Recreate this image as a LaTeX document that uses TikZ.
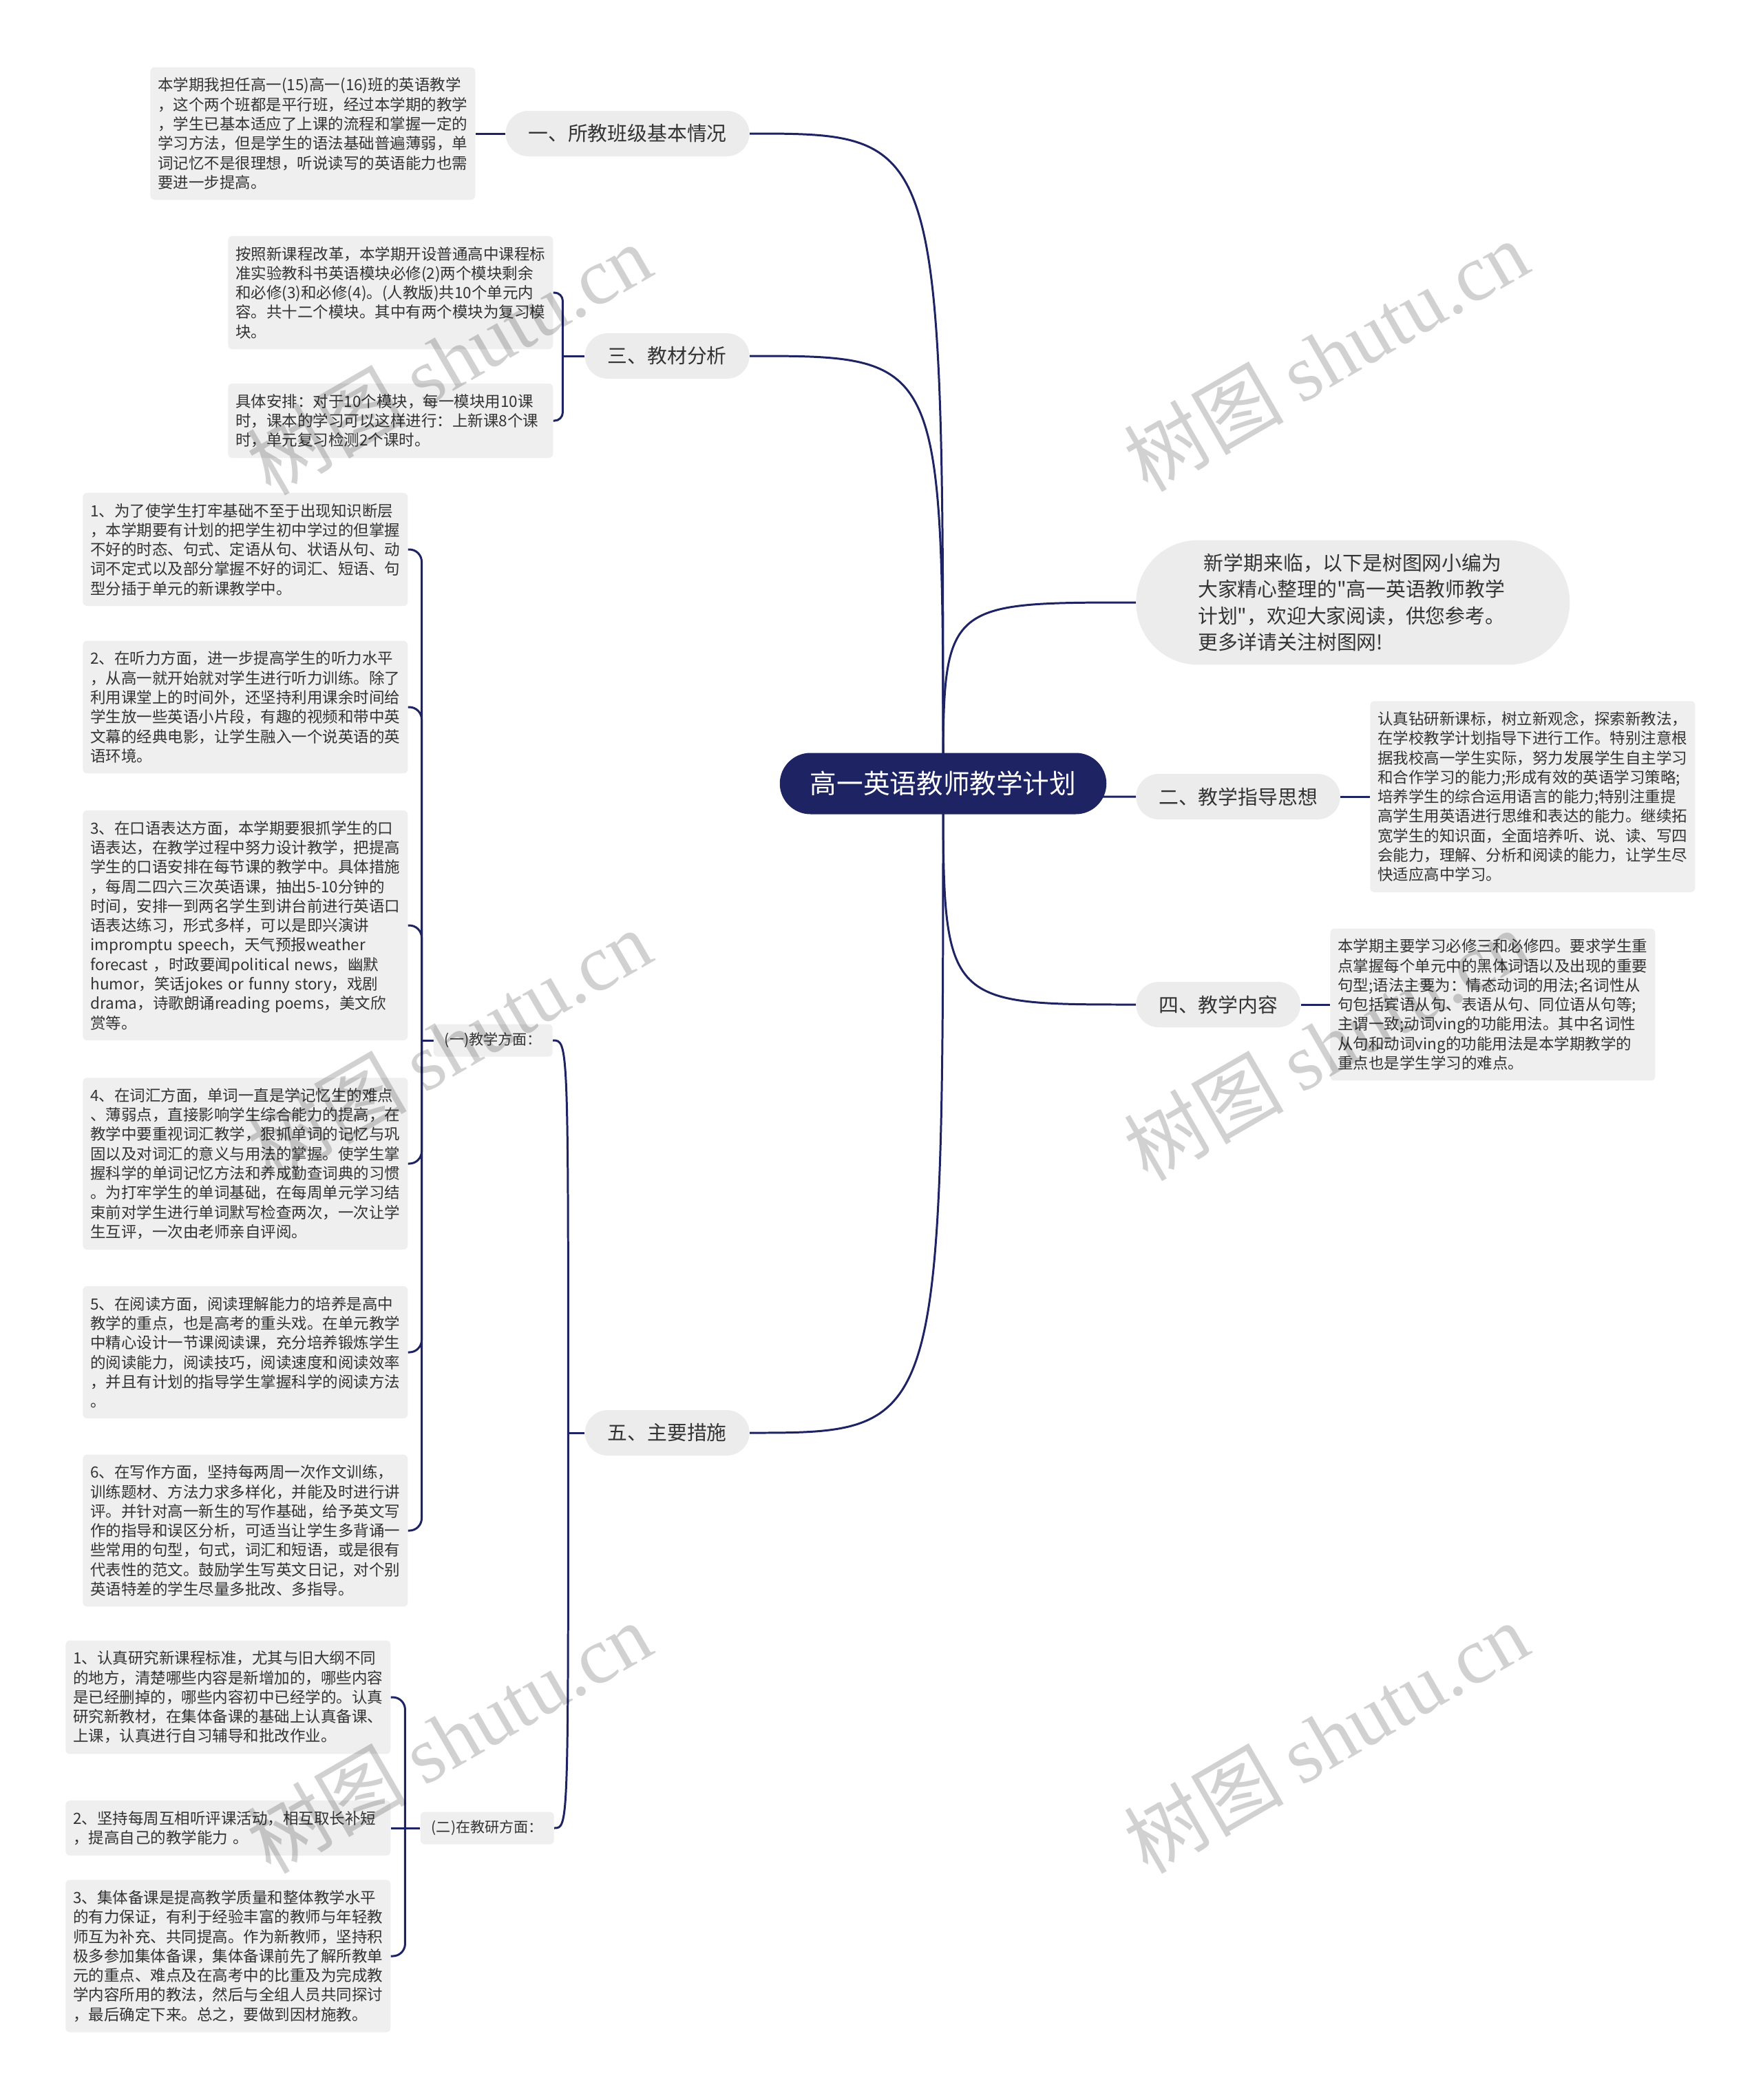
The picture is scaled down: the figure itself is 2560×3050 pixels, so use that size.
\documentclass[tikz,border=0pt]{standalone}
\usepackage{fontspec}
\setmainfont{Noto Sans CJK SC}[Ligatures=TeXOff]
\newfontfamily\wmfont{Liberation Serif}
\usetikzlibrary{calc,backgrounds}
\definecolor{navy}{HTML}{1E2463}
\definecolor{ink}{HTML}{333333}
\definecolor{pillgray}{HTML}{ECECEC}
\definecolor{cardgray}{HTML}{EFEFEF}
\tikzset{
  rootbox/.style={fill=navy,text=white,rounded corners=0.89cm,minimum height=1.78cm,
    inner xsep=0.88cm,font=\fontsize{22pt}{26pt}\selectfont},
  topic/.style={fill=pillgray,text=ink,rounded corners=0.66cm,minimum height=1.32cm,
    inner xsep=0.66cm,font=\fontsize{16.4pt}{20pt}\selectfont},
  intro/.style={fill=pillgray,text=ink,rounded corners=1.8cm,minimum height=3.62cm,
    text width=9cm,align=left,inner xsep=1.8cm,font=\fontsize{16.4pt}{21.8pt}\selectfont},
  note/.style={fill=cardgray,text=ink,rounded corners=0.12cm,text width=9cm,align=left,
    inner xsep=0.22cm,inner ysep=0.3cm,font=\fontsize{12.8pt}{16.1pt}\selectfont},
  subtopic/.style={fill=cardgray,text=ink,rounded corners=0.12cm,minimum height=0.94cm,
    inner xsep=0.32cm,font=\fontsize{12pt}{14pt}\selectfont},
  link/.style={draw=navy,line width=1.7pt},
  wm/.style={rotate=30,text=black,opacity=0.18,font=\fontsize{66pt}{76pt}\selectfont}
}
\begin{document}
\begin{tikzpicture}[x=0.02cm,y=-0.02cm]
\useasboundingbox (0,0) rectangle (2560,3050);

\node[rootbox] (root) at (1370,1138) {高一英语教师教学计划};

\node[topic,anchor=east] (t1) at (1089,194) {一、所教班级基本情况};
\node[topic,anchor=east] (t3) at (1089,517) {三、教材分析};
\node[topic,anchor=east] (t5) at (1089,2081) {五、主要措施};
\node[intro,anchor=west] (hello) at (1650,875) {\hspace*{0.3em}新学期来临，以下是树图网小编为\\大家精心整理的"高一英语教师教学\\计划"，欢迎大家阅读，供您参考。\\更多详请关注树图网!};
\node[topic,anchor=west] (t2) at (1650,1157) {二、教学指导思想};
\node[topic,anchor=west] (t4) at (1650,1459) {四、教学内容};

\node[note,anchor=west] (n1) at (218,194) {本学期我担任高一(15)高一(16)班的英语教学\\，这个两个班都是平行班，经过本学期的教学\\，学生已基本适应了上课的流程和掌握一定的\\学习方法，但是学生的语法基础普遍薄弱，单\\词记忆不是很理想，听说读写的英语能力也需\\要进一步提高。};
\node[note,anchor=west] (n3a) at (331,425) {按照新课程改革，本学期开设普通高中课程标\\准实验教科书英语模块必修(2)两个模块剩余\\和必修(3)和必修(4)。(人教版)共10个单元内\\容。共十二个模块。其中有两个模块为复习模\\块。};
\node[note,anchor=west] (n3b) at (331,611) {具体安排：对于10个模块，每一模块用10课\\时，课本的学习可以这样进行：上新课8个课\\时，单元复习检测2个课时。};
\node[note,anchor=west] (n2) at (1990,1157) {认真钻研新课标，树立新观念，探索新教法，\\在学校教学计划指导下进行工作。特别注意根\\据我校高一学生实际，努力发展学生自主学习\\和合作学习的能力;形成有效的英语学习策略;\\培养学生的综合运用语言的能力;特别注重提\\高学生用英语进行思维和表达的能力。继续拓\\宽学生的知识面，全面培养听、说、读、写四\\会能力，理解、分析和阅读的能力，让学生尽\\快适应高中学习。};
\node[note,anchor=west] (n4) at (1932,1459) {本学期主要学习必修三和必修四。要求学生重\\点掌握每个单元中的黑体词语以及出现的重要\\句型;语法主要为：情态动词的用法;名词性从\\句包括宾语从句、表语从句、同位语从句等;\\主谓一致;动词ving的功能用法。其中名词性\\从句和动词ving的功能用法是本学期教学的\\重点也是学生学习的难点。};

\node[subtopic,anchor=east] (s1) at (803,1511) {(一)教学方面：};
\node[subtopic,anchor=east] (s2) at (805,2655) {(二)在教研方面：};

\node[note,anchor=west] (a1) at (120,798) {1、为了使学生打牢基础不至于出现知识断层\\，本学期要有计划的把学生初中学过的但掌握\\不好的时态、句式、定语从句、状语从句、动\\词不定式以及部分掌握不好的词汇、短语、句\\型分插于单元的新课教学中。};
\node[note,anchor=west] (a2) at (120,1027) {2、在听力方面，进一步提高学生的听力水平\\，从高一就开始就对学生进行听力训练。除了\\利用课堂上的时间外，还坚持利用课余时间给\\学生放一些英语小片段，有趣的视频和带中英\\文幕的经典电影，让学生融入一个说英语的英\\语环境。};
\node[note,anchor=west] (a3) at (120,1344) {3、在口语表达方面，本学期要狠抓学生的口\\语表达，在教学过程中努力设计教学，把提高\\学生的口语安排在每节课的教学中。具体措施\\，每周二四六三次英语课，抽出5-10分钟的\\时间，安排一到两名学生到讲台前进行英语口\\语表达练习，形式多样，可以是即兴演讲\\impromptu speech，天气预报weather\\forecast ，时政要闻political news，幽默\\humor，笑话jokes or funny story，戏剧\\drama，诗歌朗诵reading poems，美文欣\\赏等。};
\node[note,anchor=west] (a4) at (120,1690) {4、在词汇方面，单词一直是学记忆生的难点\\、薄弱点，直接影响学生综合能力的提高，在\\教学中要重视词汇教学，狠抓单词的记忆与巩\\固以及对词汇的意义与用法的掌握。使学生掌\\握科学的单词记忆方法和养成勤查词典的习惯\\。为打牢学生的单词基础，在每周单元学习结\\束前对学生进行单词默写检查两次，一次让学\\生互评，一次由老师亲自评阅。};
\node[note,anchor=west] (a5) at (120,1964) {5、在阅读方面，阅读理解能力的培养是高中\\教学的重点，也是高考的重头戏。在单元教学\\中精心设计一节课阅读课，充分培养锻炼学生\\的阅读能力，阅读技巧，阅读速度和阅读效率\\，并且有计划的指导学生掌握科学的阅读方法\\。};
\node[note,anchor=west] (a6) at (120,2223) {6、在写作方面，坚持每两周一次作文训练，\\训练题材、方法力求多样化，并能及时进行讲\\评。并针对高一新生的写作基础，给予英文写\\作的指导和误区分析，可适当让学生多背诵一\\些常用的句型，句式，词汇和短语，或是很有\\代表性的范文。鼓励学生写英文日记，对个别\\英语特差的学生尽量多批改、多指导。};

\node[note,anchor=west] (b1) at (95,2465) {1、认真研究新课程标准，尤其与旧大纲不同\\的地方，清楚哪些内容是新增加的，哪些内容\\是已经删掉的，哪些内容初中已经学的。认真\\研究新教材，在集体备课的基础上认真备课、\\上课，认真进行自习辅导和批改作业。};
\node[note,anchor=west] (b2) at (95,2655) {2、坚持每周互相听评课活动，相互取长补短\\，提高自己的教学能力 。};
\node[note,anchor=west] (b3) at (95,2841) {3、集体备课是提高教学质量和整体教学水平\\的有力保证，有利于经验丰富的教师与年轻教\\师互为补充、共同提高。作为新教师，坚持积\\极多参加集体备课，集体备课前先了解所教单\\元的重点、难点及在高考中的比重及为完成教\\学内容所用的教法，然后与全组人员共同探讨\\，最后确定下来。总之，要做到因材施教。};

\coordinate (j3) at ($(t3.west)+(-32,0)$);
\coordinate (j5) at ($(t5.west)+(-24,0)$);
\coordinate (ja) at ($(s1.west)+(-17,0)$);
\coordinate (jb) at ($(s2.west)+(-22,0)$);

\begin{scope}[on background layer]
\fill[white] (0,0) rectangle (2560,3050);
\foreach \kid in {t1,t3,t5}
  \draw[link] (root.center) .. controls (root.center |- \kid.east) .. (\kid.east);
\foreach \kid in {hello,t2,t4}
  \draw[link] (root.center) .. controls (root.center |- \kid.west) .. (\kid.west);
\draw[link] (t1.west) -- (n1.east);
\draw[link] (t3.west) -- (j3);
\foreach \kid in {n3a,n3b}
  \draw[link,rounded corners=0.24cm] (j3) |- (\kid.east);
\draw[link] (t2.east) -- (n2.west);
\draw[link] (t4.east) -- (n4.west);
\draw[link] (t5.west) -- (j5);
\foreach \kid in {s1,s2}
  \draw[link] (j5) .. controls (j5 |- \kid.east) .. (\kid.east);
\draw[link] (s1.west) -- (ja);
\foreach \kid in {a1,a2,a3,a4,a5,a6}
  \draw[link,rounded corners=0.36cm] (ja) |- (\kid.east);
\draw[link] (s2.west) -- (b2.east);
\foreach \kid in {b1,b3}
  \draw[link,rounded corners=0.36cm] (jb) |- (\kid.east);
\end{scope}

\foreach \wx/\wy [count=\k] in {652/521,652/1517,652/2523,1926/516,1926/1517,1926/2523}
  \node[wm] (wm\k) at (\wx,\wy) {树图 {\wmfont shutu.cn}};
\end{tikzpicture}
\end{document}
